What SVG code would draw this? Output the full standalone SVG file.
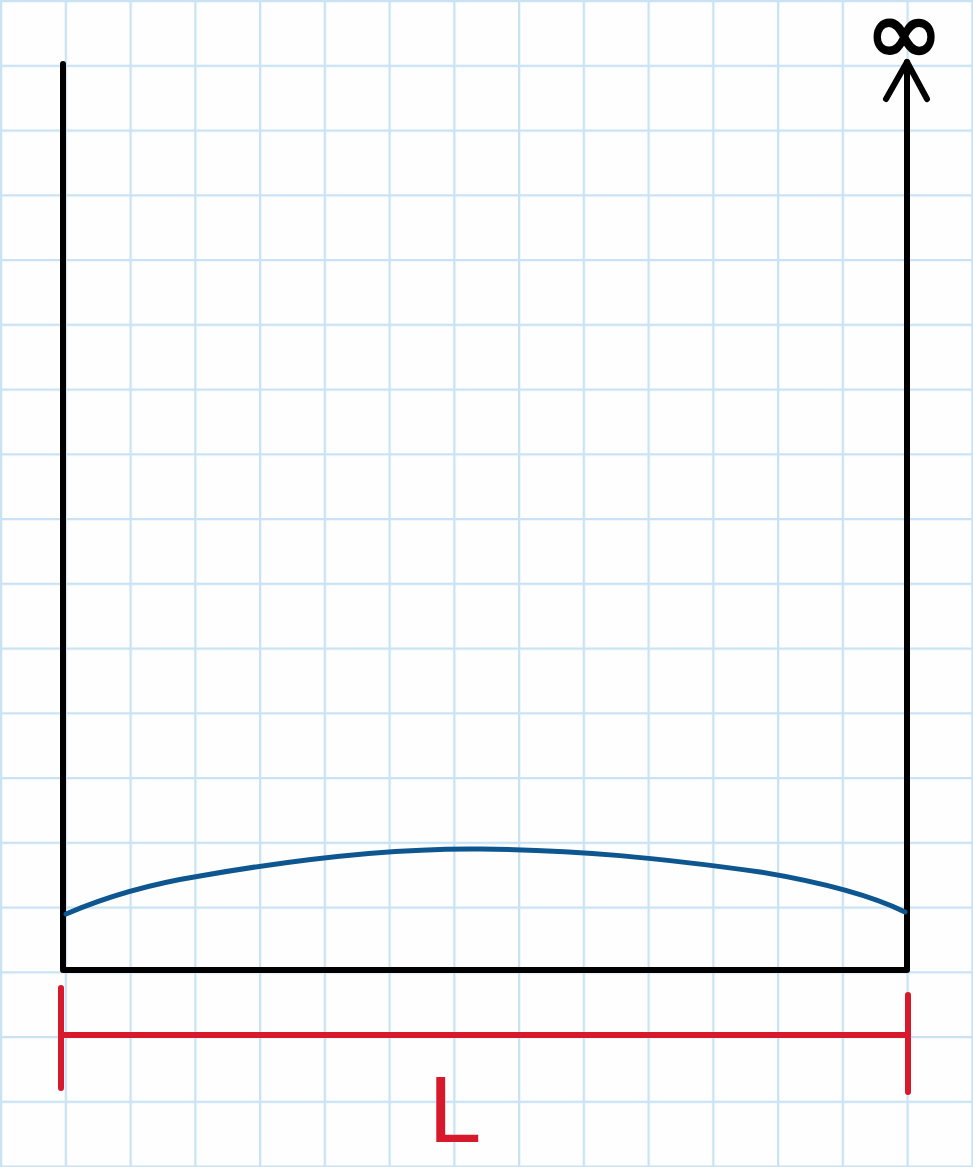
<svg xmlns="http://www.w3.org/2000/svg" width="973" height="1167" viewBox="0 0 973 1167">
<defs>
<pattern id="grid" x="0" y="0" width="64.75" height="64.75" patternUnits="userSpaceOnUse">
<path d="M 0.5 0 V 64.75 M 0 0.5 H 64.75" stroke="#c9e3f5" stroke-width="3.5" fill="none"/>
</pattern>
<style>
.blk{stroke:#000;stroke-width:6;fill:none;stroke-linecap:round;stroke-linejoin:round}
.red{stroke:#d8182b;stroke-width:6;fill:none;stroke-linecap:round}
.blue{stroke:#0d5690;stroke-width:5;fill:none;stroke-linecap:round}
</style>
</defs>
<rect width="973" height="1167" fill="#fdfefd"/>
<rect width="973" height="1167" fill="url(#grid)"/>
<g id="walls">
<path class="blk" d="M 63 64 V 970 H 907 V 62"/>
<path class="blk" d="M 886 99 L 907 62 L 927 99"/>
</g>
<g id="infinity" transform="translate(904 64) scale(1.35 1.3)">
<text x="0" y="0" text-anchor="middle" font-family="DejaVu Sans, sans-serif" font-size="70" stroke="#000" stroke-width="2">∞</text>
</g>
<g id="wave">
<path class="blue" d="M 66 914 C 110 895 150 884 200 876 C 280 862 380 848 480 849 C 580 850 660 858 760 872 C 820 882 870 895 905 912"/>
</g>
<g id="dimension">
<path class="red" d="M 61 988 V 1088 M 61 1035 H 908 M 908 995 V 1092"/>
<text x="455" y="1142" text-anchor="middle" font-family="Liberation Sans, sans-serif" font-size="95" fill="#d8182b">L</text>
</g>
</svg>
